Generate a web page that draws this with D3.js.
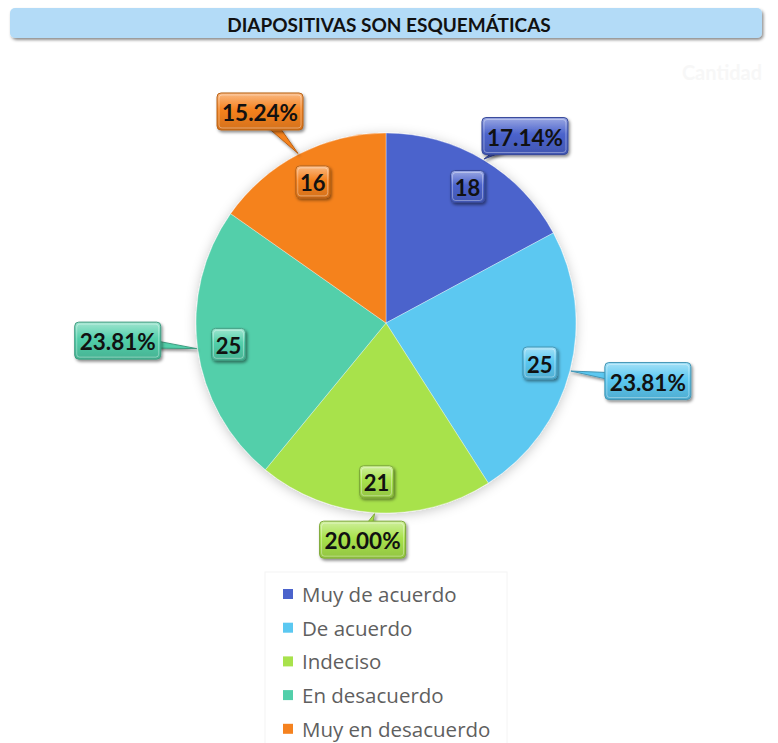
<!DOCTYPE html>
<html>
<head>
<meta charset="utf-8">
<script src="https://cdn.jsdelivr.net/npm/d3@7"></script>
<style>
    body { margin: 0; background: #fff; }
    svg { display: block; }
</style>
</head>
<body>
<div id="chart"></div>
<script>
(function () {
    'use strict';

    var categories = ['Muy de acuerdo', 'De acuerdo', 'Indeciso', 'En desacuerdo', 'Muy en desacuerdo'];
    var counts = [18, 25, 21, 25, 16];
    var colors = ['#4b63cc', '#5bc8f1', '#a8e24c', '#52cfaa', '#f5821f'];
    var title = 'DIAPOSITIVAS SON ESQUEMÁTICAS';
    // where each percentage callout box sits, relative to the tip of its pointer
    var calloutOffsets = [[41, -23], [77, 10], [-12, 26], [-79, -8], [-38, -42]];

    var WIDTH = 778, HEIGHT = 743;
    var PIE = { CX: 386, CY: 323, R: 190, LABEL_R: 159 };
    var BOX = { PCT_W: 86, PCT_H: 37, VAL_W: 34, VAL_H: 32 };
    var LEGEND = { X: 283, Y: 594, STEP: 33.7 };

    var total = d3.sum(counts);
    var pct = d3.format('.2%');
    var data = categories.map(function (c, i) {
        return { name: c, value: counts[i], color: colors[i] };
    });

    var svg = d3.select('#chart').append('svg')
        .attr('width', WIDTH)
        .attr('height', HEIGHT);

    var defs = svg.append('defs');

    var shadow = defs.append('filter').attr('id', 'soft')
        .attr('x', '-20%').attr('y', '-20%').attr('width', '140%').attr('height', '140%');
    shadow.append('feDropShadow')
        .attr('dx', 0).attr('dy', 2).attr('stdDeviation', 6)
        .attr('flood-color', '#000').attr('flood-opacity', 0.22);

    var boxShadow = defs.append('filter').attr('id', 'boxShadow')
        .attr('x', '-30%').attr('y', '-30%').attr('width', '160%').attr('height', '160%');
    boxShadow.append('feDropShadow')
        .attr('dx', 1.5).attr('dy', 2).attr('stdDeviation', 1.5)
        .attr('flood-color', '#000').attr('flood-opacity', 0.45);

    data.forEach(function (d, i) {
        var g = defs.append('linearGradient').attr('id', 'grad' + i)
            .attr('x1', 0).attr('y1', 0).attr('x2', 0).attr('y2', 1);
        g.append('stop').attr('offset', '0%').attr('stop-color', d3.interpolateRgb(d.color, '#fff')(0.45));
        g.append('stop').attr('offset', '45%').attr('stop-color', d.color);
        g.append('stop').attr('offset', '100%').attr('stop-color', d3.color(d.color).darker(0.4));
    });

    // title bar
    svg.append('rect')
        .attr('x', 10).attr('y', 8)
        .attr('width', 752).attr('height', 30)
        .attr('rx', 5)
        .attr('fill', '#b3dbf7')
        .attr('filter', 'url(#boxShadow)');
    svg.append('text')
        .attr('x', WIDTH / 2).attr('y', 24)
        .attr('text-anchor', 'middle')
        .attr('dominant-baseline', 'central')
        .style('font-family', 'Lato, "Open Sans", sans-serif')
        .style('font-weight', 700)
        .style('font-size', '19px')
        .attr('fill', '#111')
        .text(title);

    // faint series name in the corner
    svg.append('text')
        .attr('x', 722).attr('y', 72)
        .attr('text-anchor', 'middle')
        .attr('dominant-baseline', 'central')
        .style('font-family', 'Lato, sans-serif')
        .style('font-weight', 700)
        .style('font-size', '20px')
        .attr('fill', '#f7f7f7')
        .text('Cantidad');

    var pie = d3.pie().sort(null).value(function (d) { return d.value; });
    var arc = d3.arc().innerRadius(0).outerRadius(PIE.R);
    var arcs = pie(data);

    var pieGroup = svg.append('g')
        .attr('transform', 'translate(' + PIE.CX + ',' + PIE.CY + ')');

    pieGroup.append('g')
        .attr('filter', 'url(#soft)')
        .selectAll('path')
        .data(arcs)
        .enter().append('path')
        .attr('d', arc)
        .attr('fill', function (d) { return d.data.color; })
        .attr('stroke', 'rgba(255,255,255,0.35)')
        .attr('stroke-width', 1);

    function pointAt(angle, r) {
        return [Math.sin(angle) * r, -Math.cos(angle) * r];
    }

    function addBox(parent, cx, cy, w, h, i, label, size) {
        var g = parent.append('g').attr('filter', 'url(#boxShadow)');
        g.append('rect')
            .attr('x', cx - w / 2).attr('y', cy - h / 2)
            .attr('width', w).attr('height', h)
            .attr('rx', 4)
            .attr('fill', 'url(#grad' + i + ')')
            .attr('stroke', d3.color(colors[i]).darker(0.8))
            .attr('stroke-width', 1);
        parent.append('rect')
            .attr('x', cx - w / 2 + 2).attr('y', cy - h / 2 + 2)
            .attr('width', w - 4).attr('height', h - 4)
            .attr('rx', 3)
            .attr('fill', 'none')
            .attr('stroke', 'rgba(255,255,255,0.35)')
            .attr('stroke-width', 1);
        parent.append('text')
            .attr('x', cx).attr('y', cy + 1)
            .attr('text-anchor', 'middle')
            .attr('dominant-baseline', 'central')
            .style('font-family', 'Lato, "Open Sans", sans-serif')
            .style('font-weight', 700)
            .style('font-size', size + 'px')
            .attr('fill', '#111')
            .text(label);
    }

    var labels = pieGroup.append('g');

    // count labels inside slices
    arcs.forEach(function (d, i) {
        var mid = (d.startAngle + d.endAngle) / 2;
        var p = pointAt(mid, PIE.LABEL_R);
        addBox(labels, p[0], p[1], BOX.VAL_W, BOX.VAL_H, i, d.data.value, 22);
    });

    // percentage callouts
    arcs.forEach(function (d, i) {
        var mid = (d.startAngle + d.endAngle) / 2;
        var tip = pointAt(mid, PIE.R + 1);
        var cx = tip[0] + calloutOffsets[i][0];
        var cy = tip[1] + calloutOffsets[i][1];
        var dx = tip[0] - cx, dy = tip[1] - cy;
        var len = Math.sqrt(dx * dx + dy * dy);
        var nx = -dy / len * 7, ny = dx / len * 7;
        var g = labels.append('g');
        g.append('path')
            .attr('d', 'M' + tip[0] + ',' + tip[1] +
                'L' + (cx + nx) + ',' + (cy + ny) +
                'L' + (cx - nx) + ',' + (cy - ny) + 'Z')
            .attr('fill', d.data.color)
            .attr('stroke', d3.color(colors[i]).darker(0.8))
            .attr('stroke-width', 1)
            .attr('filter', 'url(#boxShadow)');
        addBox(g, cx, cy, BOX.PCT_W, BOX.PCT_H, i, pct(d.data.value / total), 22.5);
    });

    // legend
    var legend = svg.append('g');
    legend.append('rect')
        .attr('x', 265).attr('y', 572)
        .attr('width', 242).attr('height', 175)
        .attr('fill', 'none')
        .attr('stroke', '#f4f4f4');

    var items = legend.selectAll('g.item')
        .data(data)
        .enter().append('g')
        .attr('class', 'item')
        .attr('transform', function (d, i) {
            return 'translate(' + LEGEND.X + ',' + (LEGEND.Y + i * LEGEND.STEP) + ')';
        });
    items.append('rect')
        .attr('x', 0).attr('y', -5)
        .attr('width', 10).attr('height', 10)
        .attr('fill', function (d) { return d.color; });
    items.append('text')
        .attr('x', 19).attr('y', 0)
        .attr('dominant-baseline', 'central')
        .style('font-family', '"Open Sans", sans-serif')
        .style('font-size', '20.5px')
        .attr('fill', '#5f5f5f')
        .text(function (d) { return d.name; });
}());
</script>
</body>
</html>
